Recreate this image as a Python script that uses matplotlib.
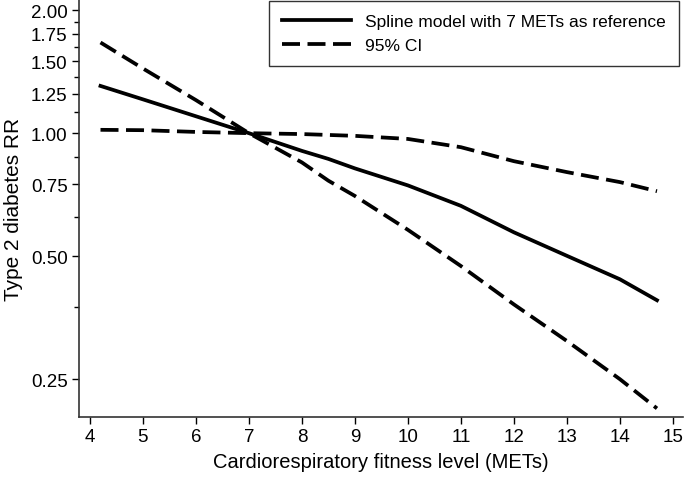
import matplotlib
matplotlib.use("Agg")
import matplotlib.pyplot as plt
from matplotlib.ticker import FixedLocator, FixedFormatter, NullFormatter

plt.rcParams['font.family'] = ['Liberation Sans', 'DejaVu Sans']

# values
mets = [4.2, 5, 6, 7, 8, 8.5, 9, 10, 11, 12, 13, 14, 14.7]
rr = [1.305, 1.21, 1.10, 1.0, 0.905, 0.865, 0.82, 0.745, 0.664, 0.572, 0.501, 0.439, 0.390]
ci_upper = [1.019, 1.017, 1.007, 1.0, 0.995, 0.99, 0.985, 0.968, 0.924, 0.854, 0.803, 0.759, 0.721]
ci_lower = [1.667, 1.44, 1.205, 1.0, 0.848, 0.765, 0.702, 0.58, 0.473, 0.381, 0.310, 0.25, 0.212]

y_ticks = [0.25, 0.50, 0.75, 1.00, 1.25, 1.50, 1.75, 2.00]
y_minor = [0.375, 0.625, 0.875, 1.125, 1.375, 1.625, 1.875]
x_ticks = list(range(4, 16))

fig = plt.figure(figsize=(6.85, 4.81), dpi=100)
ax = fig.add_axes([0.115, 0.131, 0.882, 0.869])

ax.plot(mets, rr, color='black', lw=2.7, label='Spline model with 7 METs as reference')
ax.plot(mets, ci_upper, color='black', lw=2.7, dashes=[4.8, 2.0], label='95% CI')
ax.plot(mets, ci_lower, color='black', lw=2.7, dashes=[4.8, 2.0])

ax.set_yscale('log')
ax.set_ylim(0.202, 2.13)
ax.set_xlim(3.79, 15.19)
ax.yaxis.set_major_locator(FixedLocator(y_ticks))
ax.yaxis.set_major_formatter(FixedFormatter(['%.2f' % v for v in y_ticks]))
ax.yaxis.set_minor_locator(FixedLocator(y_minor))
ax.yaxis.set_minor_formatter(NullFormatter())
ax.set_xticks(x_ticks)

ax.spines['top'].set_visible(False)
ax.spines['right'].set_visible(False)
for s in ['left', 'bottom']:
    ax.spines[s].set_linewidth(1.2)
    ax.spines[s].set_color('#333333')
ax.tick_params(axis='both', which='major', length=5, width=1, labelsize=13.5, direction='out', pad=3)
ax.tick_params(axis='y', which='minor', length=3.5, width=1)

ax.set_xlabel('Cardiorespiratory fitness level (METs)', fontsize=14.5, labelpad=5)
ax.set_ylabel('Type 2 diabetes RR', fontsize=15, labelpad=6)

leg = ax.legend(loc='upper right', bbox_to_anchor=(0.993, 0.996), borderaxespad=0,
                fontsize=12.5, frameon=True, fancybox=False, edgecolor='black',
                handlelength=4.0, handletextpad=0.8, borderpad=0.75, labelspacing=0.5)
leg.get_frame().set_linewidth(1.0)

fig.savefig('out.png', dpi=100)
